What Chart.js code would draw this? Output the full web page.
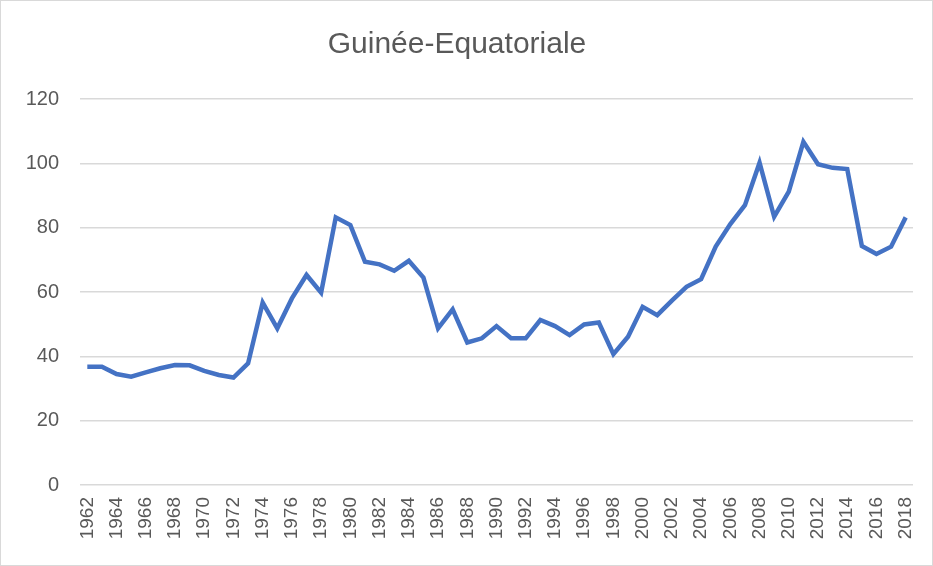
<!DOCTYPE html>
<html>
<head>
<meta charset="utf-8">
<script src="https://cdn.jsdelivr.net/npm/chart.js@4.4.0/dist/chart.umd.min.js"></script>
<style>
  html, body { margin: 0; padding: 0; background: #fff; }
  #wrap { width: 931px; height: 564px; border: 1px solid #d9d9d9; }
</style>
</head>
<body>
<div id="wrap"><canvas id="chart" width="931" height="564"></canvas></div>
<script>
// years on the category axis
const years = [];
for (let y = 1962; y <= 2018; y++) years.push(String(y));

// values, 1962 .. 2018
const values = [
  36.8, 36.8, 34.5, 33.7, 35.0, 36.3, 37.3, 37.2, 35.5, 34.2,
  33.4, 37.8, 56.7, 48.7, 58.0, 65.3, 59.8, 83.2, 80.8, 69.4,
  68.6, 66.6, 69.7, 64.5, 48.7, 54.6, 44.3, 45.6, 49.4, 45.6,
  45.6, 51.3, 49.4, 46.6, 49.9, 50.5, 40.7, 46.1, 55.4, 52.8,
  57.3, 61.6, 64.0, 74.1, 81.1, 87.0, 100.2, 83.4, 91.2, 106.7,
  99.7, 98.6, 98.2, 74.3, 71.8, 74.1, 83.2
];

const yTicks = [0, 20, 40, 60, 80, 100, 120];

const textColor = '#595959';

new Chart(document.getElementById('chart'), {
  type: 'line',
  data: {
    labels: years,
    datasets: [{
      label: 'Guinée-Equatoriale',
      data: values,
      borderColor: '#4472C4',
      borderWidth: 4.5,
      pointRadius: 0,
      tension: 0,
      fill: false
    }]
  },
  options: {
    responsive: false,
    animation: false,
    layout: { padding: { left: 0, right: 19, top: 0, bottom: 10 } },
    plugins: {
      legend: { display: false },
      tooltip: { enabled: false },
      title: {
        display: true,
        text: 'Guinée-Equatoriale',
        color: textColor,
        font: { family: 'Liberation Sans', size: 30, weight: 'normal' },
        padding: { top: 26, bottom: 36 }
      }
    },
    scales: {
      x: {
        offset: true,
        grid: { display: false, drawTicks: false },
        border: { display: false },
        afterFit: (scale) => {
          scale.height = 70;
          scale.paddingLeft = 0;
          scale.paddingRight = 0;
        },
        ticks: {
          autoSkip: false,
          maxRotation: 90,
          minRotation: 90,
          padding: 12,
          color: textColor,
          font: { family: 'Liberation Sans', size: 19 },
          callback: function (val, i) {
            return i % 2 === 0 ? this.getLabelForValue(val) : '';
          }
        }
      },
      y: {
        min: 0,
        max: 120,
        afterBuildTicks: (scale) => { scale.ticks = yTicks.map(v => ({ value: v })); },
        afterFit: (scale) => { scale.width = 79; },
        grid: { color: '#d9d9d9', lineWidth: 1.5, drawTicks: false },
        border: { display: false },
        ticks: {
          padding: 21,
          color: textColor,
          font: { family: 'Liberation Sans', size: 20 }
        }
      }
    }
  }
});
</script>
</body>
</html>
